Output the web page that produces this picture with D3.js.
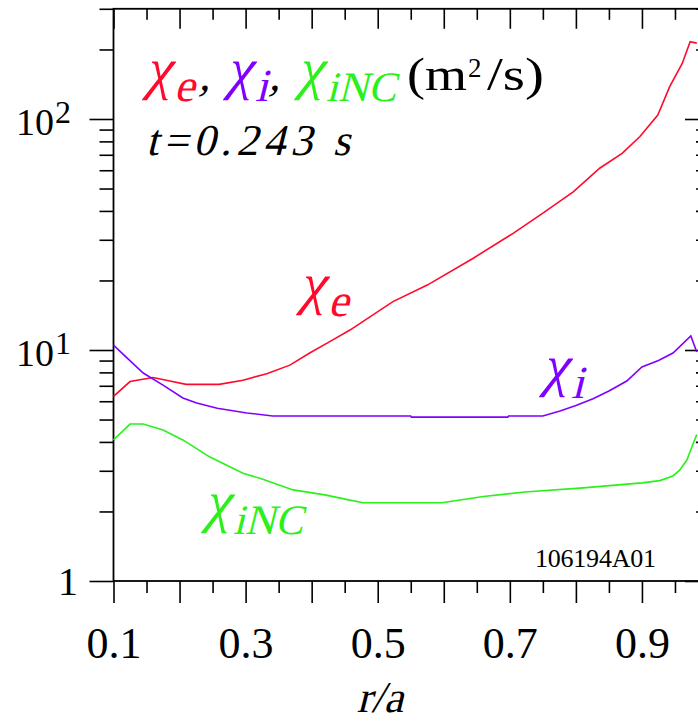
<!DOCTYPE html>
<html><head><meta charset="utf-8">
<script src="https://cdn.jsdelivr.net/npm/d3@7"></script>
<style>
html,body{margin:0;padding:0;background:#fff;}
svg{display:block;font-family:"Liberation Serif","Times New Roman",serif;}
</style>
</head><body>
<svg id="c" width="698" height="721"></svg>
<script>
// ---- data ----
const rE   = [0.100,0.125,0.160,0.180,0.210,0.260,0.296,0.332,0.367,0.397,0.428,0.458,0.523,0.575,0.644,0.705,0.750,0.796,0.836,0.870,0.897,0.924,0.942,0.961,0.973,0.983];
const chiE = [6.3,7.3,7.6,7.4,7.1,7.1,7.4,7.9,8.6,9.7,10.9,12.2,16.2,19.1,24.9,32.0,39.1,48.4,61.2,71,84,104,138,174,216,213];

const rI   = [0.100,0.120,0.145,0.175,0.205,0.226,0.257,0.302,0.341,0.550,0.551,0.697,0.698,0.750,0.776,0.800,0.826,0.850,0.877,0.900,0.925,0.947,0.974,0.983];
const chiI = [10.5,9.27,7.95,7.05,6.2,5.9,5.6,5.34,5.18,5.18,5.12,5.12,5.18,5.18,5.45,5.75,6.15,6.65,7.34,8.44,9.0,9.7,11.5,9.8];

const rNC   = [0.100,0.112,0.125,0.145,0.175,0.205,0.246,0.296,0.326,0.372,0.420,0.458,0.478,0.597,0.660,0.723,0.811,0.900,0.927,0.947,0.957,0.968,0.977,0.983];
const chiNC = [4.08,4.4,4.78,4.78,4.5,4.08,3.44,2.93,2.76,2.48,2.36,2.24,2.18,2.18,2.32,2.43,2.53,2.66,2.72,2.85,3.02,3.34,3.9,4.3];

const xMajorTicks = [0.1,0.2,0.3,0.4,0.5,0.6,0.7,0.8,0.9,1.0];
const xMinorTicks = [0.15,0.25,0.35,0.45,0.55,0.65,0.75,0.85,0.95];
const xTickLabels = [0.1,0.3,0.5,0.7,0.9];
const yMajorTicks = [1,10,100];
const yMinorTicks = [2,3,4,5,6,7,8,9,20,30,40,50,60,70,80,90,200,300];
const yTickLabels = [{v:1,base:"1",exp:""},{v:10,base:"10",exp:"1"},{v:100,base:"10",exp:"2"}];
const plotTag = "106194A01";
const timeLabel = "t=0.243 s";

const COL_E = "#ff0a2c", COL_I = "#7f00ff", COL_NC = "#2bf01a";

// ---- scales ----
const svg = d3.select("#c");
const x = d3.scaleLinear().domain([0.1, 1.0]).range([113.5, 708]);
const y = d3.scaleLog().domain([1, 300]).range([581, 581 - 231*Math.log10(300)]);
const X0 = x.range()[0], X1 = x.range()[1], Y0 = y.range()[0], Y1 = y.range()[1];

const isMinorX = d => xMinorTicks.some(m => Math.abs(m-d) < 1e-9);
const isMinorY = d => yMinorTicks.includes(d);
const xAll = xMajorTicks.concat(xMinorTicks).sort((a,b)=>a-b);
const yAll = yMajorTicks.concat(yMinorTicks).sort((a,b)=>a-b);

function styleAxis(g){
  g.select(".domain").remove();
  g.selectAll(".tick line").attr("stroke","#000").attr("stroke-width",1.6);
}

// bottom
const gB = svg.append("g").attr("transform",`translate(0,${Y0})`)
  .call(d3.axisBottom(x).tickValues(xAll).tickSize(22).tickSizeOuter(0)
    .tickFormat(d => xTickLabels.some(v=>Math.abs(v-d)<1e-9) ? d3.format(".1f")(d) : ""));
styleAxis(gB);
gB.selectAll(".tick").filter(isMinorX).select("line").attr("y2",12);
gB.selectAll(".tick text").attr("y",657.5-Y0).attr("dy",0)
  .attr("font-size",44).attr("fill","#000").attr("font-family","Liberation Serif");

// top
const gT = svg.append("g").attr("transform",`translate(0,${Y1})`)
  .call(d3.axisTop(x).tickValues(xAll).tickSize(-20).tickSizeOuter(0).tickFormat(""));
styleAxis(gT);
gT.selectAll(".tick").filter(isMinorX).select("line").attr("y2",11);

// left
const gL = svg.append("g").attr("transform",`translate(${X0},0)`)
  .call(d3.axisLeft(y).tickValues(yAll).tickSize(24).tickSizeOuter(0).tickFormat(""));
styleAxis(gL);
gL.selectAll(".tick").filter(isMinorY).select("line").attr("x2",-14);

// right
const gR = svg.append("g").attr("transform",`translate(${X1},0)`)
  .call(d3.axisRight(y).tickValues(yAll).tickSize(-23).tickSizeOuter(0).tickFormat(""));
styleAxis(gR);
gR.selectAll(".tick").filter(isMinorY).select("line").attr("x2",-12);

// frame
svg.append("rect").attr("x",X0).attr("y",Y1).attr("width",X1-X0).attr("height",Y0-Y1)
  .attr("fill","none").attr("stroke","#000").attr("stroke-width",1.8);

// y labels
yTickLabels.forEach(t => {
  const ty = y(t.v);
  if (t.exp === "") {
    svg.append("text").attr("x",78).attr("y",ty+14).attr("text-anchor","end")
      .attr("font-size",40).text(t.base);
  } else {
    svg.append("text").attr("x",54).attr("y",ty+16).attr("text-anchor","end")
      .attr("font-size",38).text(t.base);
    svg.append("text").attr("x",55).attr("y",ty+4).attr("text-anchor","start")
      .attr("font-size",32).text(t.exp);
  }
});

// slanted serif text helper
function ital(x0, y0, str, size, color, anchor, len){
  const t = svg.append("text")
    .attr("transform",`translate(${x0},${y0}) skewX(-14)`)
    .attr("font-size",size).attr("fill",color||"#000")
    .attr("text-anchor",anchor||"start").text(str);
  if (len) t.attr("textLength",len).attr("lengthAdjust","spacing");
  return t;
}

// x title
ital(380, 712, "r/a", 44, "#000", "middle");

// curves
const line = d3.line().x(d=>x(d[0])).y(d=>y(d[1]));
[[rE,chiE,COL_E],[rI,chiI,COL_I],[rNC,chiNC,COL_NC]].forEach(([r,v,c]) => {
  svg.append("path").datum(r.map((ri,i)=>[ri,v[i]]))
    .attr("d",line).attr("fill","none").attr("stroke",c).attr("stroke-width",1.6);
});

// chi label helper: (x0,y0) = chi baseline-left
function chiLabel(x0, y0, color, sub, subLen){
  ital(x0, y0, "\u03C7", 58, color);
  ital(x0+29, y0+13, sub, sub.length>1?42:46, color, "start", subLen);
}

// title line 1
chiLabel(145, 88, COL_E, "e");
ital(199, 90, ",", 44, "#000");
chiLabel(226, 88, COL_I, "i");
ital(269, 90, ",", 44, "#000");
chiLabel(297, 88, COL_NC, "iNC", 70);
svg.append("text").attr("x",407).attr("y",90).attr("font-size",46).attr("textLength",60).attr("lengthAdjust","spacingAndGlyphs").text("(m");
svg.append("text").attr("x",468).attr("y",77).attr("font-size",27).text("2");
svg.append("text").attr("x",487).attr("y",90).attr("font-size",46).attr("textLength",57).attr("lengthAdjust","spacingAndGlyphs").text("/s)");

// title line 2
ital(146, 155, timeLabel, 44, "#000", "start", 204);

// curve labels
chiLabel(299, 303, COL_E, "e");
chiLabel(542, 385, COL_I, "i");
chiLabel(204, 521, COL_NC, "iNC", 70);

// tag
svg.append("text").attr("x",535).attr("y",567).attr("font-size",26)
  .attr("textLength",121).attr("lengthAdjust","spacing").text(plotTag);
</script>
</body></html>
